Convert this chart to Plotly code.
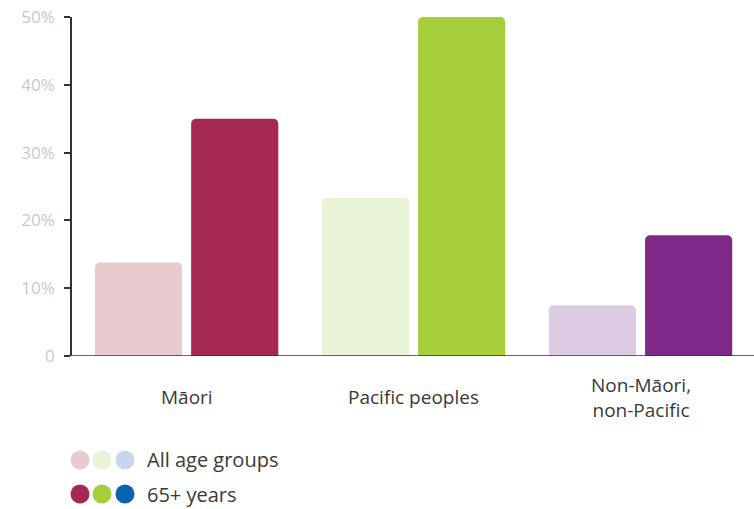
import plotly.graph_objects as go

categories = ["Māori", "Pacific peoples", "Non-Māori,<br>non-Pacific"]
all_ages = [13.8, 23.3, 7.5]
over65 = [35, 50, 17.8]
series_names = ["All age groups", "65+ years"]
y_tickvals = [0, 10, 20, 30, 40, 50]
y_ticktext = ["0", "10%", "20%", "30%", "40%", "50%"]

light_colors = ["#e8cbce", "#e9f3d6", "#dccbe3"]
dark_colors = ["#a52754", "#a6cd3a", "#7f2a8a"]
legend_light = ["#e8cbce", "#e9f3d6", "#c9d5ec"]
legend_dark = ["#a52754", "#a6cd3a", "#0b63b0"]

W, H = 754, 509
ML, MR, MT = 72, 0, 17
PH = 339
MB = H - MT - PH
PW = W - ML - MR

fig = go.Figure()
fig.add_bar(x=categories, y=all_ages, name=series_names[0],
            marker=dict(color=light_colors, line=dict(width=0)),
            hoverinfo="skip")
fig.add_bar(x=categories, y=over65, name=series_names[1],
            marker=dict(color=dark_colors, line=dict(width=0)),
            hoverinfo="skip")

font = "Open Sans"

fig.update_layout(
    width=W, height=H,
    margin=dict(l=ML, r=MR, t=MT, b=MB, autoexpand=False),
    plot_bgcolor="white", paper_bgcolor="white",
    barmode="group", bargap=0.152, bargroupgap=0.094,
    barcornerradius=5,
    showlegend=False,
    hovermode=False,
    font=dict(family=font),
)
fig.update_xaxes(range=[-0.505, 2.5], showticklabels=False, showline=False,
                 ticks="", showgrid=False, zeroline=False, fixedrange=True,
                 automargin=False)
fig.update_yaxes(range=[0, 50], tickvals=y_tickvals, ticktext=y_ticktext,
                 showline=True, linecolor="#333333", linewidth=1.5,
                 ticks="outside", ticklen=6, tickwidth=1.5, tickcolor="#333333",
                 tickfont=dict(size=17, color="#c6c9cd", family=font),
                 ticklabelstandoff=6, ticklabeloverflow="allow",
                 automargin=False, fixedrange=True,
                 showgrid=False, zeroline=False)

# x axis baseline
fig.add_shape(type="line", xref="paper", yref="y", x0=0, x1=1, y0=0, y1=0,
              line=dict(color="#333333", width=1.5))

def px2x(px):
    return (px - ML) / PW

def py2y(py):
    return (MT + PH - py) / PH

# category labels
for c in categories:
    fig.add_annotation(x=c, xref="x", y=py2y(397), yref="paper",
                       text=c, showarrow=False, yanchor="middle",
                       font=dict(size=19, color="#3a3a3a", family=font))

# custom legend
r = 9.5
dot_x = [80, 102, 125]
for name, cols, py in [(series_names[0], legend_light, 460),
                       (series_names[1], legend_dark, 494)]:
    for cx, col in zip(dot_x, cols):
        fig.add_shape(type="circle", xref="paper", yref="paper",
                      x0=px2x(cx - r), x1=px2x(cx + r),
                      y0=py2y(py + r), y1=py2y(py - r),
                      fillcolor=col, line=dict(width=0))
    fig.add_annotation(x=px2x(145), y=py2y(py), xref="paper", yref="paper",
                       text=name, showarrow=False, xanchor="left", yanchor="middle",
                       font=dict(size=20, color="#3a3a3a", family=font))

fig.write_html("out.html",
               config={"displayModeBar": False},
               post_script="document.body.style.margin='0';document.body.style.overflow='hidden';")
